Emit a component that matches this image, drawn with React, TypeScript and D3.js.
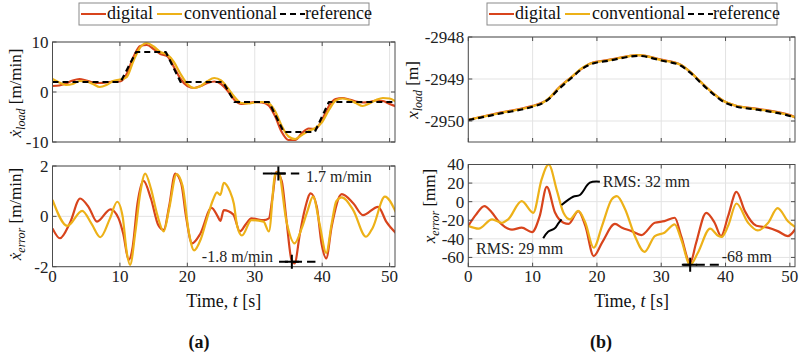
import React from 'react';
import * as d3 from 'd3';

// ---------- data ----------
const xTicks = [0, 10, 20, 30, 40, 50];
const legendLabels = ['digital', 'conventional', 'reference'];

// (a) top: load velocity [m/min]
const velTime = [0,1,2,3,4,5,6,7,8,9,10,11,12,13,14,15,16,17,18,19,20,21,22,23,24,25,26,27,28,29,30,31,32,33,34,35,36,37,38,39,40,41,42,43,44,45,46,47,48,49,50,51];
const velDigital = [1.2,1.3,1.7,2.3,2.6,2.3,1.9,1.8,1.9,2.1,2.1,3.6,7.0,9.2,9.4,8.6,7.6,7.2,5.0,2.6,1.2,0.8,1.2,1.8,2.1,1.6,0.2,-1.6,-2.4,-2.2,-2.0,-2.1,-2.6,-4.8,-8.0,-9.6,-9.6,-8.2,-7.3,-7.4,-5.5,-2.8,-1.4,-1.2,-1.5,-1.9,-2.1,-2.0,-1.7,-1.8,-2.4,-2.9];
const velConventional = [2.6,1.9,1.4,1.6,2.2,2.1,1.6,1.0,1.4,2.2,2.5,3.0,6.2,8.9,9.8,9.1,8.0,7.5,6.0,3.6,1.6,0.8,1.2,2.2,2.8,2.3,0.8,-1.0,-2.2,-2.3,-2.1,-2.0,-2.2,-3.8,-6.8,-8.9,-9.4,-8.6,-7.8,-7.2,-6.0,-3.6,-1.7,-1.3,-1.6,-2.2,-2.8,-2.3,-1.6,-1.2,-1.3,-2.0];
const velRefTime = [0,10.1,12.4,16.8,19.0,25.3,27.0,32.1,34.3,38.9,41.0,51];
const velReference = [2,2,8,8,2,2,-2,-2,-8,-8,-2,-2];
const velTicks = [-10, 0, 10];

// (a) bottom: velocity error [m/min]
const velErrDigitalTime = [0,1.1,2.6,4.1,5.4,6.6,8.6,9.8,10.5,11.3,11.9,12.6,13.5,14.6,15.7,16.5,17.3,18.2,19.1,19.8,20.7,21.9,23.6,24.5,24.9,25.4,26.8,27.8,28.7,29.5,31.3,32.1,32.6,33.2,34.0,34.7,35.45,35.9,36.7,37.4,38.3,39.2,39.9,40.6,41.4,42.9,44.6,46.05,48.3,49.5,51];
const velErrDigital = [-0.48,-0.87,-0.25,0.71,0.35,-0.21,0.28,-0.08,-0.7,-1.73,-1.2,0.5,1.41,0.7,-0.35,-0.54,0.4,1.7,1.3,0.0,-1.07,-0.7,0.34,0.0,-0.18,0.25,0.08,-0.6,-0.3,-0.08,-0.15,-0.08,0.7,1.77,1.4,-0.15,-1.73,-1.87,-0.68,0.25,0.91,0.38,-1.07,-1.67,-0.41,0.88,0.52,0.05,0.38,-0.21,-0.68];
const velErrConvTime = [0,2.2,4.4,5.8,7.1,8.5,9.6,10.4,11.0,11.5,12.3,13.0,13.75,14.6,15.5,16.5,17.3,18.4,19.3,20.2,21.0,22.0,22.9,23.8,24.4,24.9,25.4,26.3,26.9,27.4,28.1,29.5,31.3,32.1,33.0,33.5,34.7,35.9,37.0,37.8,38.65,39.6,40.6,41.4,42.1,42.9,44.6,46.5,47.5,49.3,51];
const velErrConventional = [0.65,-0.38,0.22,-0.3,-0.83,-0.1,0.58,0.0,-1.4,-1.93,-0.6,0.9,1.7,1.1,0.1,-0.6,0.3,1.68,1.2,-0.6,-1.35,-0.9,-0.1,0.65,0.95,0.85,1.33,1.0,0.5,-0.4,-0.76,-0.15,-0.21,-0.6,1.64,1.77,-0.2,-1.07,-0.45,0.2,0.78,-0.28,-1.45,-0.3,0.6,0.75,0.25,-0.81,-0.45,0.78,0.12];
const velErrTicks = [-2, 0, 2];

// (b) top: load position [m]
const posTime = [0,5,10,11.5,12.5,14,16,17.5,19,22,26.5,30,33,34.5,36,38,40,41.5,45,50,51];
const posReference = [-2949.98,-2949.82,-2949.66,-2949.58,-2949.48,-2949.25,-2948.98,-2948.78,-2948.65,-2948.56,-2948.45,-2948.56,-2948.68,-2948.85,-2949.07,-2949.35,-2949.57,-2949.65,-2949.73,-2949.88,-2949.93];
const posDigital = [-2949.97,-2949.80,-2949.64,-2949.56,-2949.47,-2949.22,-2948.96,-2948.77,-2948.63,-2948.54,-2948.43,-2948.54,-2948.66,-2948.83,-2949.05,-2949.33,-2949.55,-2949.63,-2949.71,-2949.86,-2949.92];
const posConventional = [-2949.97,-2949.81,-2949.65,-2949.57,-2949.46,-2949.23,-2948.96,-2948.76,-2948.63,-2948.55,-2948.43,-2948.55,-2948.66,-2948.83,-2949.05,-2949.33,-2949.55,-2949.63,-2949.72,-2949.87,-2949.92];
const posTicks = [-2950, -2949, -2948];

// (b) bottom: position error [mm]
const posErrDigitalTime = [0,1.2,2.5,3.6,4.7,6.8,8.3,9.9,11.1,12.2,13.5,14.8,15.6,17.1,18.2,19.5,20.8,22.8,23.9,25.4,26.9,29.0,30.5,32.1,33.1,34.5,35.4,37.0,38.3,39.3,40.4,41.7,43.0,44.8,46.6,48.1,49.7,51];
const posErrDigital = [-26,-14,-4.8,-11,-21,-30,-28,-32.8,-15.6,16,-12,-22.7,-24,-10.2,-26,-58.6,-44,-24,-28,-31.7,-36,-22.7,-21,-17.3,-37,-66,-45,-12,-22.7,-37,-15.6,10.6,-10.2,-26,-28,-31.7,-37,-28];
const posErrConvTime = [0,1.6,3.7,5.2,6.2,8.3,10.1,11.4,12.5,13.8,14.8,15.8,17.1,18.2,19.5,20.8,22.3,23.1,24.4,25.9,27.4,29.0,30.5,32.1,33.1,34.5,35.7,37.6,38.9,39.4,40.4,41.7,43.5,45.0,46.6,48.1,49.7,51];
const posErrConventional = [-26,-29,-19,-22.7,-19,0.6,-12,24,40,11.3,-12,-19,-10,-22.7,-49.6,-26,2.4,6,-8.4,-37,-54,-37,-33.4,-24.5,-40.6,-68,-55,-29,-37,-38,-26,-2,-22.7,-31,-23,-7,-21,-28];
const posErrTicks = [-60, -40, -20, 0, 20, 40];

// annotations
const rms32Path = [[20.46,21.5],[18.9,20.4],[17.35,7.2],[16.3,5.3],[14.5,-3.6]];
const rms29Path = [[11.65,-39.4],[12.4,-32.3],[13.45,-28.7],[14.0,-23.3],[14.5,-19]];

// ---------- style ----------
const C_DIG = '#D8441C';
const C_CONV = '#EDB118';
const C_REF = '#000000';
const FONT = '"Liberation Serif", "DejaVu Serif", serif';
const AX = '#4d4d4d';
const GRID = '#e3e3e3';

type Series = { t: number[]; v: number[]; color: string; dash?: string; linear?: boolean };

function zip(t: number[], v: number[]): [number, number][] {
  return t.map((d, i) => [d, v[i]]);
}

function Panel(props: {
  id: string; x0: number; x1: number; y0: number; y1: number;
  yDomain: [number, number]; yTicks: number[]; showX: boolean;
  series: Series[]; annot?: (xs: any, ys: any) => React.ReactNode;
}) {
  const { id, x0, x1, y0, y1, yDomain, yTicks, showX, series, annot } = props;
  const xs = d3.scaleLinear().domain([0, 50.8]).range([x0, x1]);
  const ys = d3.scaleLinear().domain(yDomain).range([y1, y0]);
  return (
    <g>
      <defs>
        <clipPath id={id}>
          <rect x={x0} y={y0 - 1} width={x1 - x0} height={y1 - y0 + 2} />
        </clipPath>
      </defs>
      <rect x={x0} y={y0} width={x1 - x0} height={y1 - y0} fill="#fff" />
      {xTicks.map(t => (
        <line key={'gx' + t} x1={xs(t)} x2={xs(t)} y1={y0} y2={y1} stroke={GRID} strokeWidth={1} />
      ))}
      {yTicks.map(t => (
        <line key={'gy' + t} x1={x0} x2={x1} y1={ys(t)} y2={ys(t)} stroke={GRID} strokeWidth={1} />
      ))}
      <g clipPath={`url(#${id})`}>
        {series.map((s, i) => {
          const gen = d3.line<[number, number]>()
            .x(d => xs(d[0])).y(d => ys(d[1]))
            .curve(s.linear ? d3.curveLinear : d3.curveMonotoneX);
          return (
            <path key={i} d={gen(zip(s.t, s.v)) || ''} fill="none" stroke={s.color}
              strokeWidth={2.2} strokeDasharray={s.dash} strokeLinejoin="round" />
          );
        })}
      </g>
      {xTicks.map(t => (
        <g key={'tx' + t}>
          <line x1={xs(t)} x2={xs(t)} y1={y1} y2={y1 - 4} stroke={AX} />
          <line x1={xs(t)} x2={xs(t)} y1={y0} y2={y0 + 4} stroke={AX} />
        </g>
      ))}
      {yTicks.map(t => (
        <g key={'ty' + t}>
          <line x1={x0} x2={x0 + 4} y1={ys(t)} y2={ys(t)} stroke={AX} />
          <line x1={x1} x2={x1 - 4} y1={ys(t)} y2={ys(t)} stroke={AX} />
          <text x={x0 - 4} y={ys(t)} dy="0.35em" textAnchor="end" fontSize={17} fontFamily={FONT} fill="#222">
            {String(t)}
          </text>
        </g>
      ))}
      {showX && xTicks.map(t => (
        <text key={'lx' + t} x={xs(t)} y={y1 + 15} textAnchor="middle" fontSize={17} fontFamily={FONT} fill="#222">
          {String(t)}
        </text>
      ))}
      <rect x={x0} y={y0} width={x1 - x0} height={y1 - y0} fill="none" stroke={AX} strokeWidth={1} />
      {annot && annot(xs, ys)}
    </g>
  );
}

function Plus({ x, y }: { x: number; y: number }) {
  return <path d={`M${x - 7},${y}H${x + 7}M${x},${y - 7}V${y + 7}`} stroke="#000" strokeWidth={2} />;
}

function Legend({ x }: { x: number }) {
  const y = 3;
  const cy = y + 11;
  const items = [
    { lx: 2, tx: 28, color: C_DIG, dash: undefined as string | undefined },
    { lx: 78, tx: 105, color: C_CONV, dash: undefined },
    { lx: 201, tx: 226, color: C_REF, dash: '6,4' },
  ];
  return (
    <g>
      <rect x={x} y={y} width={290} height={22} fill="#fff" stroke="#8a8a8a" strokeWidth={1} />
      {items.map((it, i) => (
        <g key={i}>
          <line x1={x + it.lx} x2={x + it.lx + 25} y1={cy} y2={cy} stroke={it.color} strokeWidth={2} strokeDasharray={it.dash} />
          <text x={x + it.tx} y={cy + 5} fontSize={18} fontFamily={FONT} fill="#111">{legendLabels[i]}</text>
        </g>
      ))}
    </g>
  );
}

function YLabel({ x, y, sym, dot, sub, unit }: { x: number; y: number; sym: string; dot: boolean; sub: string; unit: string }) {
  return (
    <text transform={`translate(${x},${y}) rotate(-90)`} textAnchor="middle" fontSize={17} fontFamily={FONT} fill="#111">
      <tspan fontStyle="italic">{dot ? '\u1E8B' : sym}</tspan>
      <tspan fontStyle="italic" fontSize={12} dy={4}>{sub}</tspan>
      <tspan dy={-4}>{' [' + unit + ']'}</tspan>
    </text>
  );
}

function XLabel({ x, y }: { x: number; y: number }) {
  return (
    <text x={x} y={y} textAnchor="middle" fontSize={18} fontFamily={FONT} fill="#111">
      Time, <tspan fontStyle="italic">t</tspan> [s]
    </text>
  );
}

export default function App() {
  const aX0 = 52.5, aX1 = 395;
  const bX0 = 468.3, bX1 = 795;
  const line = (pts: number[][], xs: any, ys: any) =>
    d3.line<number[]>().x(d => xs(d[0])).y(d => ys(d[1])).curve(d3.curveCatmullRom)(pts) || '';
  return (
    <svg width={800} height={356} style={{ position: 'absolute', left: 0, top: 0, background: '#fff' }}>
      <rect x={0} y={0} width={800} height={356} fill="#fff" />
      <Legend x={79} />
      <Legend x={487} />

      {/* (a) top */}
      <Panel id="c1" x0={aX0} x1={aX1} y0={42} y1={142} yDomain={[-10, 10]} yTicks={velTicks} showX={false}
        series={[
          { t: velTime, v: velDigital, color: C_DIG },
          { t: velTime, v: velConventional, color: C_CONV },
          { t: velRefTime, v: velReference, color: C_REF, dash: '6,4', linear: true },
        ]} />
      {/* (a) bottom */}
      <Panel id="c2" x0={aX0} x1={aX1} y0={166} y1={266.7} yDomain={[-2, 2]} yTicks={velErrTicks} showX={true}
        series={[
          { t: velErrDigitalTime, v: velErrDigital, color: C_DIG },
          { t: velErrConvTime, v: velErrConventional, color: C_CONV },
        ]}
        annot={(xs, ys) => (
          <g>
            <line x1={xs(31.2)} x2={xs(36.6)} y1={ys(1.7)} y2={ys(1.7)} stroke="#000" strokeWidth={2} strokeDasharray="9,5" />
            <Plus x={xs(33.5)} y={ys(1.7)} />
            <text x={xs(37.6)} y={ys(1.36)} fontSize={16} fontFamily={FONT} fill="#222">1.7 m/min</text>
            <line x1={xs(33.6)} x2={xs(39)} y1={ys(-1.8)} y2={ys(-1.8)} stroke="#000" strokeWidth={2} strokeDasharray="9,5" />
            <Plus x={xs(35.5)} y={ys(-1.8)} />
            <text x={xs(32.7)} y={ys(-1.81)} textAnchor="end" fontSize={16} fontFamily={FONT} fill="#222">-1.8 m/min</text>
          </g>
        )} />

      {/* (b) top */}
      <Panel id="c3" x0={bX0} x1={bX1} y0={37} y1={142} yDomain={[-2950.5, -2948]} yTicks={posTicks} showX={false}
        series={[
          { t: posTime, v: posDigital, color: C_DIG },
          { t: posTime, v: posConventional, color: C_CONV },
          { t: posTime, v: posReference, color: C_REF, dash: '6,4' },
        ]} />
      {/* (b) bottom */}
      <Panel id="c4" x0={bX0} x1={bX1} y0={164.5} y1={266.7} yDomain={[-70, 40]} yTicks={posErrTicks} showX={true}
        series={[
          { t: posErrDigitalTime, v: posErrDigital, color: C_DIG },
          { t: posErrConvTime, v: posErrConventional, color: C_CONV },
        ]}
        annot={(xs, ys) => (
          <g>
            <path d={line(rms32Path, xs, ys)} fill="none" stroke="#000" strokeWidth={2} />
            <text x={xs(20.9)} y={ys(15.8)} fontSize={16} fontFamily={FONT} fill="#222">RMS: 32 mm</text>
            <path d={line(rms29Path, xs, ys)} fill="none" stroke="#000" strokeWidth={2} />
            <text x={xs(1.2)} y={ys(-56.3)} fontSize={16} fontFamily={FONT} fill="#222">RMS: 29 mm</text>
            <line x1={xs(33.2)} x2={xs(39.0)} y1={ys(-68)} y2={ys(-68)} stroke="#000" strokeWidth={2} strokeDasharray="9,5" />
            <Plus x={xs(34.5)} y={ys(-68)} />
            <text x={xs(39.4)} y={ys(-65)} fontSize={16} fontFamily={FONT} fill="#222">-68 mm</text>
          </g>
        )} />

      <YLabel x={21} y={93} sym="x" dot={true} sub="load" unit="m/min" />
      <YLabel x={21} y={214} sym="x" dot={true} sub="error" unit="m/min" />
      <YLabel x={418} y={90} sym="x" dot={false} sub="load" unit="m" />
      <YLabel x={435} y={206} sym="x" dot={false} sub="error" unit="mm" />

      <XLabel x={(aX0 + aX1) / 2} y={307} />
      <XLabel x={(bX0 + bX1) / 2} y={307} />

      <text x={199} y={348} textAnchor="middle" fontSize={18} fontWeight="bold" fontFamily={FONT} fill="#111">(a)</text>
      <text x={601} y={348} textAnchor="middle" fontSize={18} fontWeight="bold" fontFamily={FONT} fill="#111">(b)</text>
    </svg>
  );
}
